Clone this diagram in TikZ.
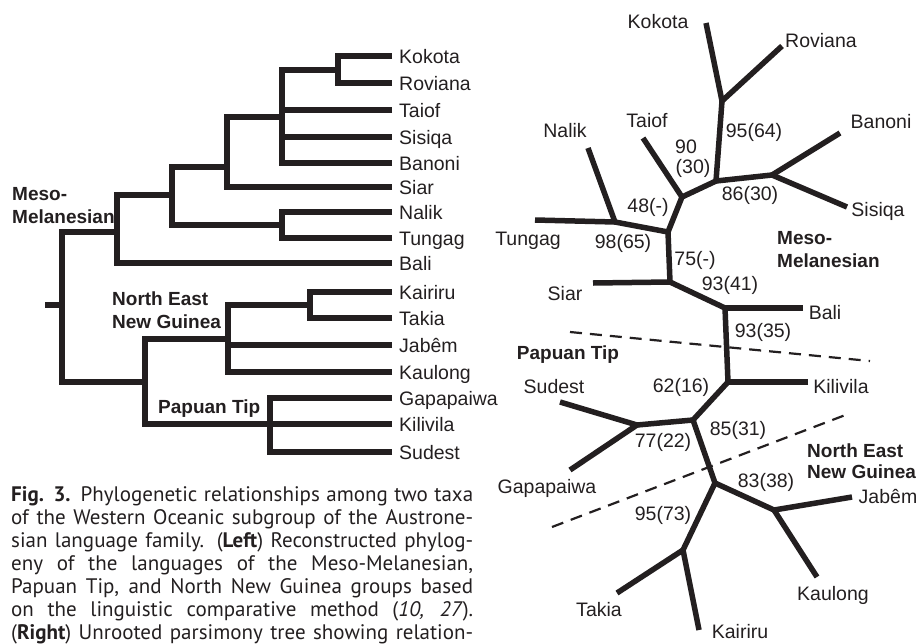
\documentclass[tikz,border=0pt]{standalone}
\usepackage{fontspec}
\setmainfont{Liberation Sans}
\newfontfamily\capfont{PT Sans}
\definecolor{ink}{RGB}{35,31,32}
\tikzset{
    branch/.style={draw=ink, line width=5.5pt},
    taxon/.style={anchor=base, inner sep=0pt, text=ink, font=\fontsize{19.5}{22}\selectfont},
    group/.style={anchor=base west, inner sep=0pt, text=ink, font=\fontsize{19}{22}\selectfont\bfseries},
    divide/.style={draw=ink, line width=2.2pt, dash pattern=on 12pt off 8pt},
    capline/.style={anchor=base west, inner sep=0pt, text=ink, font=\capfont\fontsize{21}{23}\selectfont}
}
\begin{document}
\begin{tikzpicture}[x=1pt, y=-1pt]
        \useasboundingbox (0,0) rectangle (918,643);
        % left tree
        \foreach \nm/\txt/\y in {kok/Kokota/56, rov/Roviana/83, tai/Taiof/110, sis/Sisiqa/137, ban/Banoni/163,
            sia/Siar/187, nal/Nalik/212, tun/Tungag/238, bal/Bali/263, kai/Kairiru/292, tak/Takia/318,
            jab/Jabêm/345, kau/Kaulong/372, gap/Gapapaiwa/398, kil/Kilivila/424, sud/Sudest/452}
            {
                \coordinate (L\nm) at (392,\y);
                \node[taxon, anchor=base west] (l\nm) at (399,\y+7) {\txt};
            }
        \coordinate (a1) at (338,70);
        \coordinate (m4) at (282,117);
        \coordinate (m3) at (227,167);
        \coordinate (n1) at (282,225);
        \coordinate (m2) at (172,195);
        \coordinate (m1) at (117,232);
        \coordinate (k1) at (310,305);
        \coordinate (g1) at (228,339);
        \coordinate (p2) at (270,424);
        \coordinate (p1) at (145,382);
        \coordinate (root) at (62,305);
        \coordinate (stub) at (45,305);
        \foreach \c/\p in {Lkok/a1, Lrov/a1, a1/m4, Ltai/m4, Lsis/m4, Lban/m4, m4/m3, Lsia/m3, m3/m2,
            Lnal/n1, Ltun/n1, n1/m2, m2/m1, Lbal/m1, m1/root, Lkai/k1, Ltak/k1, k1/g1, Ljab/g1, Lkau/g1,
            g1/p1, Lgap/p2, Lkil/p2, Lsud/p2, p2/p1, p1/root}
            {
                \draw[branch] (\c) -| (\p);
            }
        \draw[branch] (stub) -- (root);
        \node[group] (lmeso) at (12,200) {Meso-};
        \node[group] (lmela) at (12,223) {Melanesian};
        \node[group] (lnea) at (112,305) {North East};
        \node[group] (lneb) at (112,328) {New Guinea};
        \node[group] (lpap) at (158,413) {Papuan Tip};

        % right tree
        \foreach \nm/\x/\y in {kok/706/23, rov/782/46, ban/840/133, sis/847/207, tai/643/138, nal/588/148,
            tun/535/220, sia/593/283, bal/803/308, kil/808/382, sud/560/402, gap/570/470, jab/852/497,
            kau/817/577, tak/617/593, kai/699/630}
            {
                \coordinate (R\nm) at (\x,\y);
            }
        \foreach \nm/\x/\y in {u1/722/101, u2/716/181, u3/772/175, u4/682/197, u5/668/232, u6/615/222,
            u7/670/282, u8/725/308, u9/728/382, u10/693/420, u11/637/425, u12/715/483, u13/774/510, u14/683/550}
            {
                \coordinate (\nm) at (\x,\y);
                \fill[ink] (\nm) circle (2.75pt);
            }
        \foreach \a/\b in {Rkok/u1, Rrov/u1, u1/u2, u2/u3, Rban/u3, Rsis/u3, u2/u4, Rtai/u4, u4/u5, u5/u6,
            Rnal/u6, Rtun/u6, u5/u7, Rsia/u7, u7/u8, Rbal/u8, u8/u9, Rkil/u9, u9/u10, u10/u11, Rsud/u11,
            Rgap/u11, u10/u12, u12/u13, Rjab/u13, Rkau/u13, u12/u14, Rtak/u14, Rkai/u14}
            {
                \draw[branch] (\a) -- (\b);
            }
        \foreach \nm/\txt/\x/\y in {kok/Kokota/658/28, rov/Roviana/821/47, tai/Taiof/647/127, nal/Nalik/565/137,
            ban/Banoni/881/128, sis/Sisiqa/878/216, tun/Tungag/528/245, sia/Siar/565/300, bal/Bali/825/319,
            kil/Kilivila/841/393, sud/Sudest/554/393, gap/Gapapaiwa/547/493, jab/Jabêm/888/503,
            kau/Kaulong/833/600, tak/Takia/599/616, kai/Kairiru/740/638}
            {
                \node[taxon] (r\nm) at (\x,\y) {\txt};
            }
        % bootstrap values
        \foreach \nm/\txt/\x/\y in {b1/90/686/153, b2/(30)/693/173, b3/95(64)/754/137, b4/86(30)/750/200,
            b5/48(-)/648/212, b6/98(65)/623/248, b7/75(-)/695/265, b8/93(41)/730/290, b9/93(35)/763/337,
            b10/62(16)/681/392, b11/77(22)/663/447, b12/85(31)/738/435, b13/83(38)/766/487, b14/95(73)/663/520}
            {
                \node[taxon] (\nm) at (\x,\y) {\txt};
            }
        \node[group] (rmeso) at (777,244) {Meso-};
        \node[group] (rmela) at (777,267) {Melanesian};
        \node[group, anchor=base] (rpap) at (568,359) {Papuan Tip};
        \node[group] (rnea) at (807,457) {North East};
        \node[group] (rneb) at (807,478) {New Guinea};
        \coordinate (da1) at (570,332);
        \coordinate (da2) at (870,361);
        \coordinate (db1) at (552,527);
        \coordinate (db2) at (848,414);
        \draw[divide] (da1) -- (da2);
        \draw[divide] (db1) -- (db2);

        % caption
        \node[capline] (cap1) at (11,501) {\makebox[462pt][s]{\textbf{Fig. 3.} Phylogenetic relationships among two taxa}};
        \node[capline] (cap2) at (11,524) {\makebox[462pt][s]{of the Western Oceanic subgroup of the Austrone-}};
        \node[capline] (cap3) at (11,547) {\makebox[462pt][s]{sian language family. (\textbf{Left}) Reconstructed phylog-}};
        \node[capline] (cap4) at (11,570) {\makebox[462pt][s]{eny of the languages of the Meso-Melanesian,}};
        \node[capline] (cap5) at (11,593) {\makebox[462pt][s]{Papuan Tip, and North New Guinea groups based}};
        \node[capline] (cap6) at (11,616) {\makebox[462pt][s]{on the linguistic comparative method (\textit{10, 27}).}};
        \node[capline] (cap7) at (11,639) {\makebox[462pt][s]{(\textbf{Right}) Unrooted parsimony tree showing relation-}};
    \end{tikzpicture}
\end{document}
